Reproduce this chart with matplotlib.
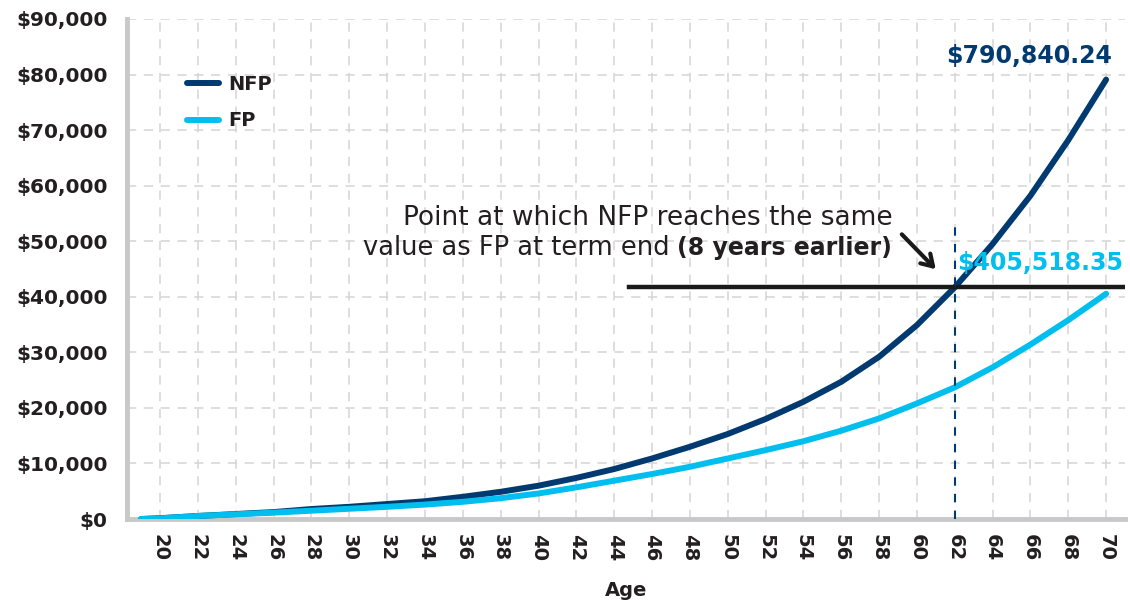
import numpy as np
import matplotlib
matplotlib.use("Agg")
import matplotlib.pyplot as plt

# data (axis units, as drawn)
ages = [19, 20, 22, 24, 26, 28, 30, 32, 34, 36, 38, 40, 42, 44, 46, 48, 50,
        52, 54, 56, 58, 60, 62, 64, 66, 68, 70]
nfp = [0, 150, 550, 900, 1250, 1800, 2200, 2700, 3200, 4000, 4900, 6000, 7400,
       9000, 10900, 13000, 15300, 18000, 21100, 24700, 29200, 34900, 41700,
       49500, 58200, 68200, 79084]
fp = [0, 120, 550, 850, 1150, 1500, 1850, 2200, 2600, 3100, 3750, 4600, 5700,
      6900, 8100, 9400, 10900, 12400, 14000, 15900, 18100, 20800, 23700,
      27300, 31400, 35800, 40552]
series_names = ["NFP", "FP"]
x_ticks = list(range(20, 71, 2))
y_ticks = list(range(0, 90001, 10000))
same_value_level = 41700
cross_age = 62
nfp_label = "$790,840.24"
fp_label = "$405,518.35"

NAVY = "#003a70"
CYAN = "#00bfef"
INK = "#231f20"
GREY = "#c8c8ca"

plt.rcParams['font.family'] = ['DejaVu Sans']

fig = plt.figure(figsize=(11.3, 6.05), dpi=100)
ax = fig.add_axes([0.1124, 0.1421, 0.8832, 0.8265])

ax.plot(ages, nfp, color=NAVY, lw=4.3, solid_capstyle='round', solid_joinstyle='round',
        label=series_names[0], zorder=3)
ax.plot(ages, fp, color=CYAN, lw=4.3, solid_capstyle='round', solid_joinstyle='round',
        label=series_names[1], zorder=3)

ax.set_xlim(18.25, 71)
ax.set_ylim(0, 90000)
ax.set_xticks(x_ticks)
ax.set_yticks(y_ticks)
ax.set_yticklabels(["${:,}".format(v) for v in y_ticks])
ax.tick_params(axis='x', length=0, pad=11, labelsize=14, labelrotation=-90, colors=INK)
ax.tick_params(axis='y', length=0, pad=14, labelsize=14.5, colors=INK)
for lab in ax.get_xticklabels() + ax.get_yticklabels():
    lab.set_fontweight('bold')

ax.grid(True, color="#d4d4d4", lw=1.1, linestyle=(0, (6, 5)), zorder=0)
ax.set_axisbelow(True)
for s in ['top', 'right']:
    ax.spines[s].set_visible(False)
for s in ['left', 'bottom']:
    ax.spines[s].set_color(GREY)
    ax.spines[s].set_linewidth(3.5)

ax.set_xlabel("Age", fontsize=14, fontweight='bold', color=INK, labelpad=14)

leg = ax.legend(loc='upper left', bbox_to_anchor=(0.043, 0.923), frameon=False,
                handlelength=1.6, handletextpad=0.5, labelspacing=0.9,
                prop={'size': 14, 'weight': 'bold'})
for t in leg.get_texts():
    t.set_color(INK)

# reference line and marker
ax.plot([44.8, 71], [same_value_level, same_value_level], color="#1a1a1a", lw=3.2, zorder=4)
ax.plot([cross_age, cross_age], [0, 53700], color=NAVY, lw=1.5, linestyle=(0, (4, 4)), zorder=6)

ax.annotate("", xy=(61.1, 44600), xytext=(59.1, 51600),
            arrowprops=dict(arrowstyle='->,head_length=0.8,head_width=0.5', color="#1a1a1a", lw=3),
            zorder=6)

ax.text(70.3, 83350, nfp_label, color=NAVY, fontsize=17, fontweight='bold',
        ha='right', va='center', zorder=7)
ax.text(62.15, 46160, fp_label, color=CYAN, fontsize=17, fontweight='bold',
        ha='left', va='center', zorder=7)

ax.text(58.7, 54250, "Point at which NFP reaches the same", color=INK, fontsize=19,
        ha='right', va='center', zorder=7)
bold_part = ax.text(58.7, 48860, "(8 years earlier)", color=INK, fontsize=17,
                    fontweight='bold', ha='right', va='center', zorder=7)
fig.canvas.draw()
bb = bold_part.get_window_extent()
x_left = ax.transData.inverted().transform((bb.x0, bb.y0))[0]
ax.text(x_left, 48860, "value as FP at term end ", color=INK, fontsize=18.5,
        ha='right', va='center', zorder=7)

fig.savefig("out.png", dpi=100)
